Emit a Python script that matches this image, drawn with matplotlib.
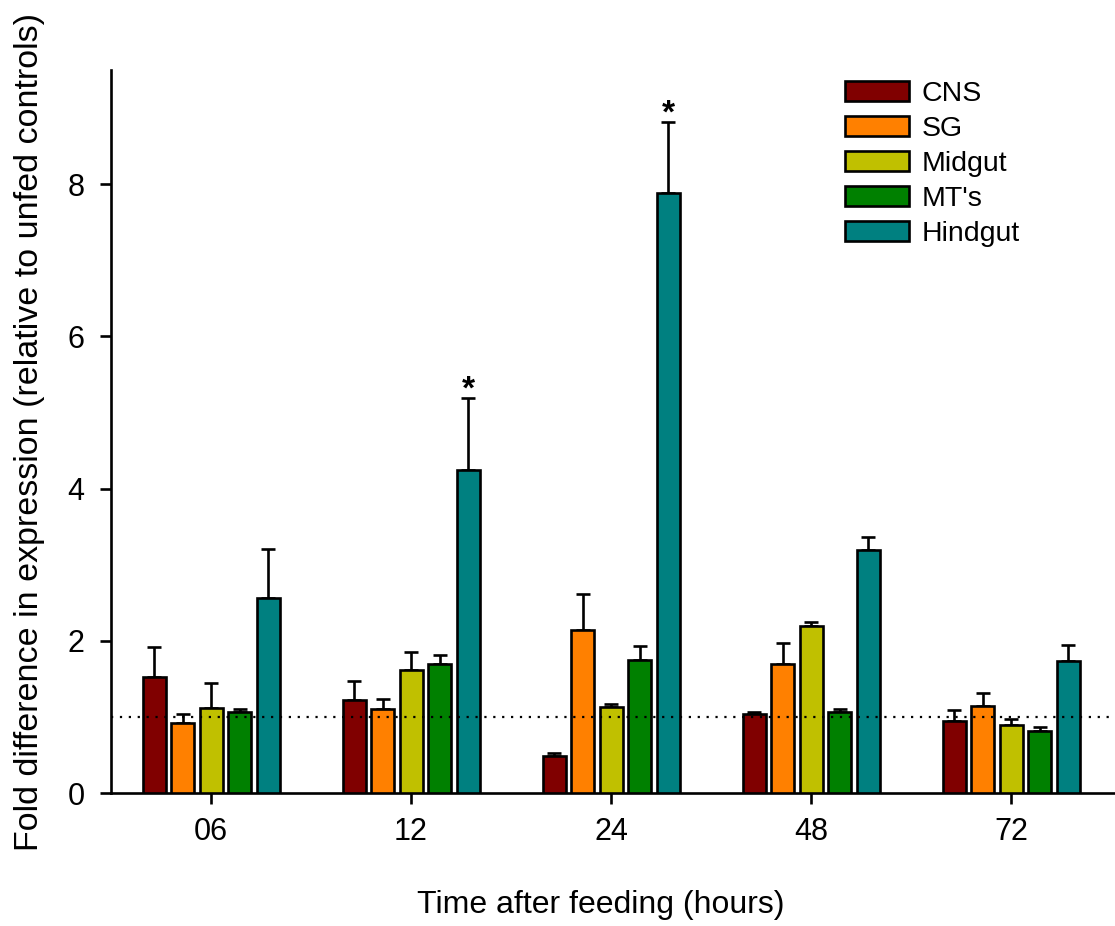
import numpy as np
import matplotlib.pyplot as plt

plt.rcParams['font.family'] = ['Liberation Sans', 'DejaVu Sans']

# fold change per tissue at each time point (mean, upper error)
times = ['06', '12', '24', '48', '72']
tissues = ['CNS', 'SG', 'Midgut', "MT's", 'Hindgut']
colors = ['#800000', '#ff8000', '#c0c000', '#008000', '#008080']

cns = [1.52, 1.22, 0.49, 1.04, 0.94]
cns_err = [0.40, 0.25, 0.04, 0.03, 0.15]
sg = [0.92, 1.10, 2.14, 1.70, 1.15]
sg_err = [0.12, 0.13, 0.47, 0.27, 0.16]
midgut = [1.12, 1.61, 1.13, 2.20, 0.90]
midgut_err = [0.32, 0.24, 0.04, 0.05, 0.07]
mts = [1.06, 1.70, 1.75, 1.07, 0.82]
mts_err = [0.04, 0.11, 0.18, 0.03, 0.05]
hindgut = [2.56, 4.24, 7.89, 3.19, 1.73]
hindgut_err = [0.65, 0.95, 0.93, 0.17, 0.21]

means = [cns, sg, midgut, mts, hindgut]
errs = [cns_err, sg_err, midgut_err, mts_err, hindgut_err]
signif = [(1, 4), (2, 4)]  # (time index, tissue index) marked with *

fig = plt.figure(figsize=(11.15, 9.26), dpi=100)
ax = fig.add_axes([0.0996, 0.1436, 0.9004, 0.7808])

x = np.arange(len(times))
step = 0.1425
width = 0.115
lw = 1.9
for i, (name, m, e, c) in enumerate(zip(tissues, means, errs, colors)):
    pos = x + (i - 2) * step
    ax.bar(pos, m, width, color=c, edgecolor='black', linewidth=lw,
           label=name, zorder=3)
    ax.errorbar(pos, m, yerr=[np.zeros(len(m)), e], fmt='none',
                ecolor='black', elinewidth=lw, capsize=5, capthick=lw,
                zorder=2)

for ti, si in signif:
    top = means[si][ti] + errs[si][ti]
    ax.text(x[ti] + (si - 2) * step, top - 0.1, '*', ha='center',
            va='bottom', fontsize=24, fontweight='bold')

ax.axhline(1.0, color='black', linestyle=(0, (1, 3)), linewidth=1.6,
           zorder=4)

ax.set_xlim(-0.5, 4.52)
ax.set_ylim(0, 9.5)
ax.set_xticks(x)
ax.set_xticklabels(times)
ax.set_yticks([0, 2, 4, 6, 8])
ax.tick_params(direction='out', length=8, width=lw, labelsize=22)
ax.tick_params(axis='x', pad=9)
ax.tick_params(axis='y', pad=11)
for s in ['top', 'right']:
    ax.spines[s].set_visible(False)
for s in ['left', 'bottom']:
    ax.spines[s].set_linewidth(lw)

ax.set_xlabel('Time after feeding (hours)', fontsize=23)
ax.xaxis.set_label_coords(0.488, -0.134)
ax.xaxis.label.set_verticalalignment('top')
ax.set_ylabel('Fold difference in expression (relative to unfed controls)',
              fontsize=24.5, labelpad=16)

ax.legend(loc='upper left', bbox_to_anchor=(0.717, 1.005), frameon=False,
          fontsize=20.5, handlelength=2.25, handleheight=0.7,
          handletextpad=0.45, labelspacing=0.32, borderpad=0)

fig.savefig('out.png', dpi=100)
